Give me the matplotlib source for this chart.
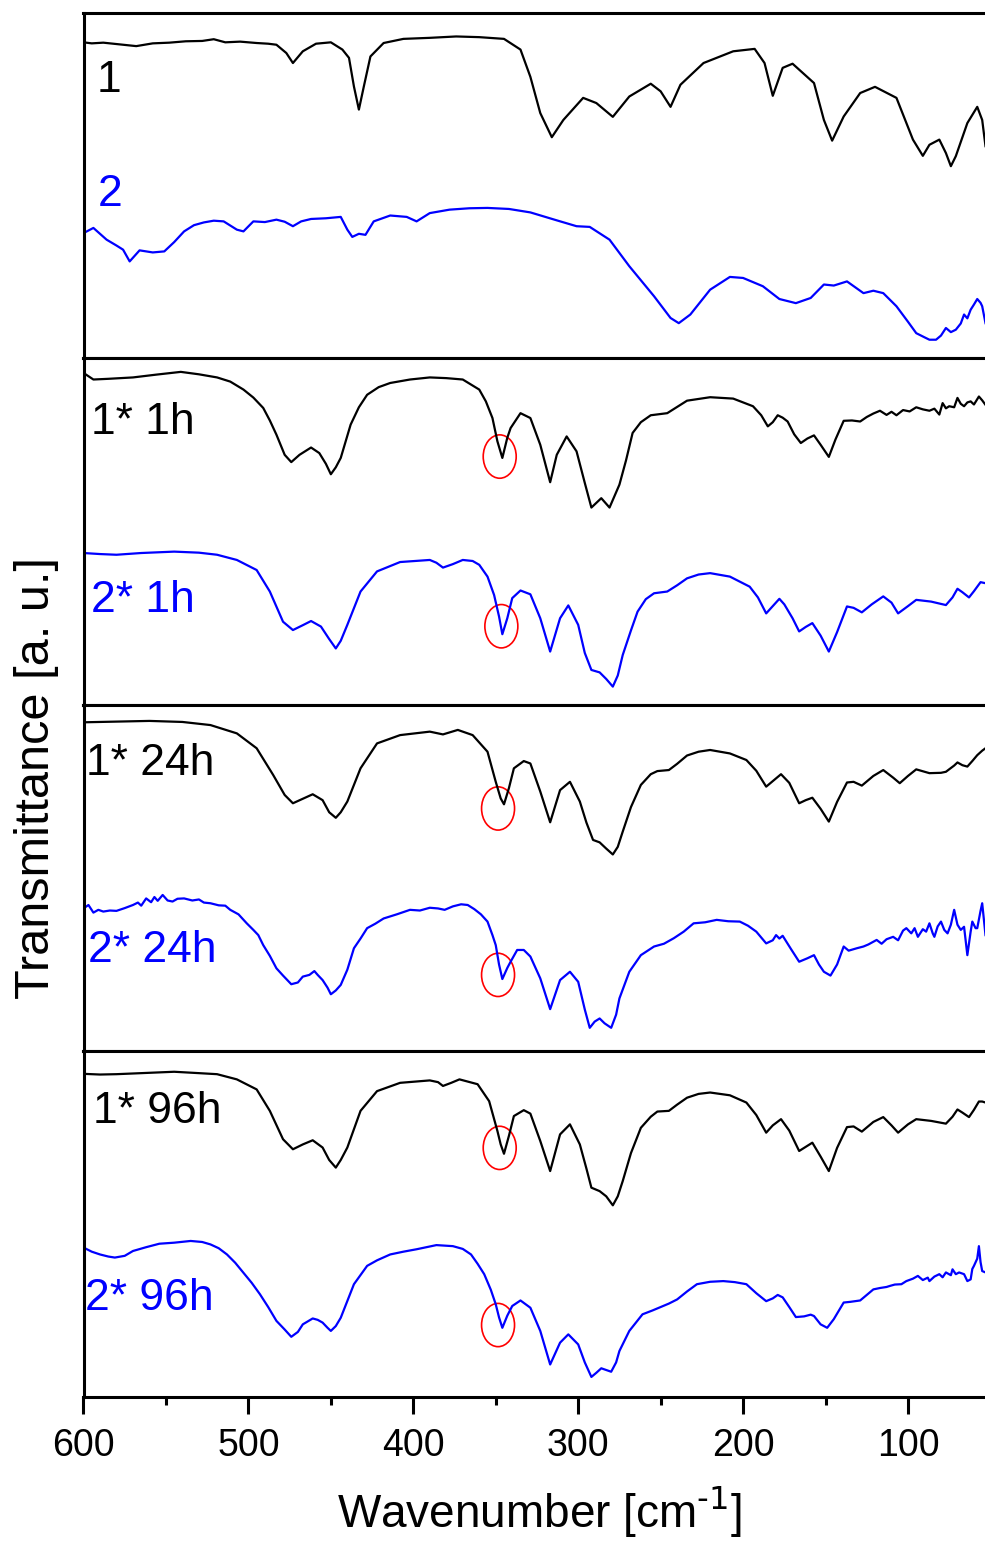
import matplotlib
matplotlib.use("Agg")
import matplotlib.pyplot as plt
from matplotlib.patches import Ellipse
from matplotlib.ticker import MultipleLocator
import numpy as np

plt.rcParams['font.family'] = ['Liberation Sans', 'DejaVu Sans']
plt.rcParams['mathtext.default'] = 'regular'

# Far-IR spectra, columns: wavenumber [cm-1], transmittance [a.u., 0-100 per panel]
spec_1 = np.array([
    [600, 91.5], [595, 91.2], [588, 91.4], [580, 91.0], [568, 90.4], [558, 91.2], [548, 91.4],
    [538, 91.8], [528, 91.9], [521, 92.4], [514, 91.5], [505, 91.7], [495, 91.3], [488, 91.1],
    [483, 90.8], [477, 88.4], [473, 85.5], [467, 88.9], [459, 91.1], [450, 91.5], [443, 89.4],
    [439, 87.0], [436, 78.7], [433, 72.0], [430, 78.7], [426, 87.4], [418, 91.3], [406, 92.5],
    [390, 92.8], [374, 93.2], [360, 93.0], [345, 92.5], [335, 89.4], [329, 81.5], [323, 71.0],
    [316, 64.0], [309, 69.0], [297, 75.4], [289, 73.9], [279, 69.9], [269, 75.8], [256, 79.5],
    [250, 77.3], [244, 72.8], [238, 79.2], [224, 85.5], [206, 88.9], [193, 89.6], [187, 85.5],
    [182, 76.0], [176, 84.1], [170, 85.3], [157, 79.7], [151, 69.0], [146, 63.0], [139, 70.0],
    [129, 76.8], [120, 78.6], [107, 75.4], [97, 63.3], [91, 58.6], [87, 61.8], [81, 63.3],
    [77, 59.4], [74, 55.6], [71, 58.5], [64, 68.1], [58, 72.8], [55, 69.0], [53, 61.4]])

spec_2 = np.array([
    [600, 36.2], [594, 37.7], [586, 34.3], [580, 32.6], [576, 31.4], [572, 28.0], [566, 31.2],
    [558, 30.6], [551, 30.9], [545, 33.6], [539, 36.7], [533, 38.5], [527, 39.3], [521, 39.8],
    [515, 39.6], [507, 37.2], [503, 36.7], [497, 39.6], [490, 39.4], [483, 40.1], [478, 39.5],
    [473, 38.2], [468, 39.6], [462, 40.3], [453, 40.5], [444, 40.9], [440, 37.2], [437, 35.1],
    [433, 36.0], [429, 35.7], [424, 39.6], [414, 41.3], [404, 40.9], [398, 39.6], [390, 42.0],
    [378, 43.0], [366, 43.4], [355, 43.5], [342, 43.2], [329, 42.2], [313, 39.9], [301, 38.2],
    [293, 38.0], [281, 34.3], [269, 26.6], [254, 17.9], [244, 11.6], [239, 10.1], [232, 12.6],
    [220, 19.8], [208, 23.5], [200, 23.2], [188, 20.8], [178, 17.1], [168, 15.9], [159, 17.4],
    [151, 21.3], [145, 21.0], [137, 22.2], [127, 18.8], [121, 19.5], [115, 18.8], [107, 15.0],
    [100, 10.5], [95, 7.2], [90, 6.0], [87, 5.3], [83, 5.3], [80, 6.5], [77, 8.7], [74, 7.5],
    [71, 8.2], [68, 10.0], [66, 12.6], [64, 11.5], [62, 14.0], [60, 15.5], [58, 17.1],
    [56, 16.0], [55, 15.0], [53, 10.1]])

spec_1_1h = np.array([
    [600, 95.7], [594, 93.8], [585, 94.0], [570, 94.4], [556, 95.2], [541, 96.0], [530, 95.3],
    [519, 94.4], [511, 93.2], [503, 90.9], [497, 88.6], [491, 85.6], [487, 82.0], [483, 77.9],
    [478, 72.1], [474, 70.0], [469, 72.1], [462, 74.2], [457, 72.6], [453, 69.5], [450, 66.5],
    [447, 68.5], [444, 71.2], [438, 80.8], [433, 85.8], [428, 89.4], [421, 91.6], [414, 92.8],
    [402, 93.8], [390, 94.4], [380, 94.2], [370, 93.8], [360, 90.9], [356, 87.5], [352, 82.7],
    [349, 76.0], [346, 71.2], [343, 77.0], [341, 79.8], [335, 84.1], [329, 82.7], [323, 75.0],
    [317, 64.2], [313, 72.1], [307, 77.4], [301, 73.1], [296, 64.0], [292, 56.9], [286, 59.6],
    [281, 56.9], [275, 63.5], [271, 70.5], [267, 78.4], [262, 81.5], [256, 83.5], [246, 84.1],
    [234, 87.7], [220, 88.7], [206, 88.3], [194, 86.1], [189, 83.5], [185, 80.3], [182, 81.5],
    [179, 83.5], [176, 82.8], [173, 81.7], [169, 78.0], [165, 75.5], [161, 76.8], [157, 77.7],
    [153, 75.0], [148, 71.5], [144, 76.5], [139, 81.9], [134, 82.0], [129, 81.7], [125, 83.0],
    [121, 84.0], [117, 84.8], [113, 83.6], [110, 84.5], [107, 83.5], [103, 85.0], [99, 84.6],
    [95, 85.8], [91, 85.2], [87, 84.8], [84, 85.4], [81, 83.7], [79, 87.0], [77, 85.5],
    [75, 86.1], [72, 85.8], [70, 88.5], [68, 86.8], [66, 86.1], [64, 87.2], [62, 87.5],
    [60, 86.6], [57, 88.9], [55, 87.8], [53, 86.5]])

spec_2_1h = np.array([
    [600, 43.8], [590, 43.5], [580, 43.3], [565, 43.8], [545, 44.2], [530, 43.9], [519, 43.3],
    [507, 41.8], [495, 38.9], [487, 32.7], [479, 24.0], [473, 21.6], [467, 23.0], [462, 24.2],
    [456, 22.6], [451, 19.0], [447, 16.3], [444, 18.5], [440, 23.1], [432, 32.7], [422, 38.5],
    [408, 41.2], [390, 41.8], [386, 41.0], [382, 39.6], [376, 40.6], [370, 41.8], [364, 41.5],
    [360, 40.4], [355, 37.0], [351, 31.7], [348, 25.5], [346, 20.4], [343, 25.0], [340, 30.8],
    [335, 33.0], [329, 31.9], [323, 25.0], [317, 15.4], [311, 25.0], [306, 28.7], [300, 23.1],
    [296, 15.0], [292, 10.1], [287, 9.4], [283, 7.5], [279, 5.3], [276, 8.5], [273, 14.4],
    [268, 21.5], [264, 26.9], [259, 30.5], [254, 32.2], [246, 32.7], [240, 34.5], [234, 36.5],
    [227, 37.6], [220, 38.0], [208, 37.0], [196, 34.1], [191, 31.0], [186, 26.4], [182, 28.5],
    [178, 30.6], [175, 29.0], [170, 25.0], [166, 21.2], [162, 22.5], [158, 23.6], [153, 20.0],
    [148, 15.4], [143, 21.0], [137, 28.4], [133, 28.0], [128, 26.7], [122, 29.0], [115, 31.3],
    [110, 29.5], [106, 26.4], [100, 28.5], [95, 30.3], [86, 29.8], [77, 28.8], [73, 31.0],
    [70, 33.5], [67, 32.5], [63, 31.0], [60, 32.8], [56, 35.4], [53, 35.1]])

spec_1_24h = np.array([
    [600, 95.0], [580, 95.2], [560, 95.4], [540, 95.1], [523, 94.2], [507, 91.8], [495, 87.5],
    [485, 79.8], [478, 74.0], [473, 71.6], [467, 72.9], [461, 74.2], [455, 72.5], [451, 69.0],
    [447, 67.4], [444, 69.0], [440, 72.1], [432, 81.7], [422, 88.9], [408, 91.3], [390, 92.3],
    [382, 91.5], [373, 92.8], [364, 91.3], [355, 86.5], [350, 77.8], [347, 73.0], [345, 71.3],
    [342, 76.0], [339, 81.7], [333, 83.8], [329, 83.1], [323, 75.0], [317, 66.1], [311, 75.4],
    [305, 77.8], [299, 72.1], [295, 66.0], [291, 61.0], [287, 60.3], [283, 58.5], [279, 56.8],
    [276, 59.0], [273, 63.4], [268, 70.5], [262, 76.9], [256, 80.0], [252, 80.9], [245, 81.2],
    [240, 83.0], [234, 85.4], [227, 86.5], [220, 87.0], [208, 86.0], [198, 84.1], [192, 81.0],
    [186, 76.4], [182, 78.0], [177, 80.0], [172, 77.5], [166, 71.6], [162, 72.5], [158, 73.2],
    [153, 70.0], [148, 66.3], [143, 72.0], [137, 77.6], [133, 77.8], [128, 76.7], [121, 79.5],
    [115, 81.2], [109, 79.0], [105, 77.4], [100, 79.5], [95, 81.4], [87, 80.3], [80, 80.4],
    [77, 80.7], [72, 82.5], [70, 83.4], [67, 82.6], [64, 82.2], [61, 83.8], [58, 85.5],
    [55, 86.8], [53, 87.5]])

spec_2_24h = np.array([
    [600, 41.2], [597, 42.2], [594, 40.0], [591, 40.8], [588, 40.3], [584, 40.6], [580, 40.5],
    [575, 41.3], [570, 42.2], [567, 42.9], [565, 42.0], [562, 44.1], [559, 43.0], [557, 44.5],
    [555, 43.4], [552, 45.1], [549, 43.5], [546, 43.2], [543, 44.0], [539, 44.1], [534, 43.5],
    [530, 43.8], [527, 42.9], [523, 42.7], [518, 42.1], [514, 42.0], [511, 40.8], [506, 39.5],
    [501, 36.9], [497, 35.0], [494, 33.5], [491, 30.6], [487, 27.5], [483, 23.9], [479, 21.8],
    [474, 19.3], [470, 19.8], [467, 21.5], [463, 22.0], [460, 23.1], [458, 22.0], [455, 20.5],
    [452, 18.3], [450, 16.4], [447, 17.5], [444, 19.1], [440, 23.5], [436, 29.7], [432, 32.5],
    [428, 35.5], [423, 36.8], [418, 38.3], [410, 39.5], [402, 40.8], [396, 40.6], [390, 41.4],
    [385, 41.2], [381, 40.8], [376, 41.8], [371, 42.4], [367, 42.2], [363, 41.0], [359, 39.5],
    [355, 37.4], [352, 33.5], [350, 30.6], [348, 25.0], [346, 20.8], [343, 24.0], [341, 25.8],
    [337, 29.2], [333, 29.2], [329, 27.3], [323, 21.0], [317, 12.1], [311, 20.5], [305, 22.9],
    [300, 20.0], [296, 12.0], [293, 6.7], [290, 8.5], [287, 9.4], [284, 8.0], [280, 6.7],
    [277, 10.5], [275, 15.2], [269, 22.9], [262, 27.7], [254, 30.2], [248, 31.0], [242, 32.6],
    [236, 34.5], [230, 36.9], [223, 37.2], [216, 37.9], [209, 37.5], [202, 37.4], [197, 36.2],
    [192, 34.5], [186, 31.1], [182, 32.0], [180, 33.5], [178, 32.5], [176, 33.3], [171, 29.5],
    [166, 25.8], [161, 26.8], [157, 27.7], [154, 25.0], [151, 22.9], [147, 21.8], [143, 25.0],
    [139, 30.2], [136, 29.0], [131, 29.7], [127, 30.2], [124, 30.8], [119, 32.1], [116, 31.0],
    [113, 32.3], [109, 33.0], [106, 32.0], [103, 34.8], [101, 35.5], [98, 34.0], [96, 35.5],
    [94, 33.0], [91, 35.2], [89, 34.5], [87, 36.9], [85, 34.0], [84, 33.0], [82, 36.0],
    [80, 37.4], [78, 35.0], [76, 34.0], [74, 36.5], [72, 40.8], [70, 36.5], [68, 35.0],
    [66, 35.9], [64, 27.7], [62, 34.5], [61, 37.4], [59, 35.5], [58, 35.5], [56, 40.5],
    [55, 42.7], [54, 38.0], [53, 33.5]])

spec_1_96h = np.array([
    [600, 93.4], [590, 93.2], [580, 93.3], [565, 93.6], [545, 94.0], [530, 93.6], [519, 93.3],
    [507, 91.8], [495, 88.9], [487, 82.7], [479, 74.5], [473, 71.6], [467, 73.0], [461, 74.2],
    [455, 72.1], [451, 68.5], [447, 66.3], [444, 68.5], [440, 72.1], [432, 82.7], [422, 88.4],
    [408, 90.8], [390, 91.5], [385, 91.0], [382, 89.9], [377, 90.8], [372, 91.8], [361, 90.4],
    [354, 85.5], [349, 76.9], [347, 73.0], [345, 70.3], [342, 75.5], [339, 81.2], [333, 82.9],
    [329, 81.9], [323, 74.0], [317, 65.3], [311, 75.9], [305, 78.8], [299, 73.0], [295, 66.0],
    [292, 60.5], [287, 59.5], [283, 58.0], [279, 55.4], [276, 58.0], [273, 62.4], [268, 70.5],
    [262, 77.8], [256, 81.0], [252, 82.5], [245, 82.7], [240, 84.5], [234, 86.5], [227, 87.6],
    [220, 88.0], [208, 87.2], [198, 85.1], [192, 81.5], [186, 76.4], [182, 78.5], [177, 80.3],
    [172, 77.0], [166, 71.1], [162, 72.3], [158, 73.5], [153, 69.5], [148, 65.3], [143, 72.0],
    [137, 78.0], [133, 78.2], [128, 76.7], [121, 79.5], [115, 80.9], [110, 78.5], [106, 76.4],
    [100, 78.8], [95, 80.3], [86, 79.8], [77, 79.0], [73, 81.0], [70, 83.1], [67, 82.2],
    [63, 80.9], [60, 83.0], [57, 85.4], [55, 85.4], [53, 85.1]])

spec_2_96h = np.array([
    [600, 43.2], [595, 42.0], [590, 41.2], [585, 40.6], [581, 40.3], [575, 40.8], [570, 42.2],
    [562, 43.3], [554, 44.3], [545, 44.6], [535, 45.1], [528, 44.8], [523, 44.1], [518, 43.0],
    [513, 41.2], [508, 38.8], [503, 35.9], [498, 33.0], [493, 29.7], [488, 26.0], [483, 22.0],
    [478, 19.5], [474, 17.4], [470, 18.8], [467, 21.0], [461, 22.7], [458, 22.3], [455, 21.5],
    [452, 20.0], [450, 19.1], [447, 20.5], [444, 22.9], [436, 32.6], [428, 37.9], [422, 39.5],
    [414, 41.2], [406, 42.0], [398, 42.7], [390, 43.5], [386, 43.9], [376, 43.6], [370, 42.8],
    [365, 41.2], [361, 38.5], [357, 35.5], [353, 31.0], [350, 26.8], [348, 23.0], [346, 20.0],
    [343, 23.5], [340, 26.3], [335, 27.9], [329, 25.8], [323, 19.1], [317, 9.4], [311, 15.7],
    [306, 18.1], [300, 15.2], [296, 10.0], [292, 5.8], [289, 7.0], [286, 8.3], [283, 7.8],
    [280, 7.3], [277, 10.0], [275, 13.3], [269, 19.1], [261, 23.9], [255, 25.0], [250, 26.0],
    [245, 27.0], [240, 28.2], [234, 30.5], [228, 32.6], [220, 33.3], [212, 33.5], [205, 33.2],
    [198, 32.6], [192, 30.0], [186, 27.7], [182, 28.5], [179, 29.5], [176, 28.8], [172, 26.0],
    [168, 23.1], [163, 23.3], [159, 23.8], [157, 23.4], [153, 21.0], [149, 20.0], [145, 22.5],
    [139, 27.3], [135, 27.5], [129, 27.9], [125, 29.5], [121, 31.1], [117, 31.5], [113, 31.8],
    [111, 32.1], [108, 32.5], [104, 32.6], [101, 33.5], [97, 34.2], [94, 35.0], [91, 33.8],
    [88, 34.5], [87, 33.5], [84, 34.8], [81, 35.5], [79, 34.6], [77, 36.0], [74, 35.2],
    [73, 36.9], [71, 35.5], [69, 36.0], [66, 35.5], [64, 33.5], [62, 34.0], [61, 37.0],
    [60, 37.9], [58, 40.0], [57, 43.6], [56, 39.0], [55, 36.4], [53, 36.0]])

panels = [
    [(spec_1, 'black', '1'), (spec_2, 'blue', '2')],
    [(spec_1_1h, 'black', '1* 1h'), (spec_2_1h, 'blue', '2* 1h')],
    [(spec_1_24h, 'black', '1* 24h'), (spec_2_24h, 'blue', '2* 24h')],
    [(spec_1_96h, 'black', '1* 96h'), (spec_2_96h, 'blue', '2* 96h')],
]

# red marks around the ~347 cm-1 band (centre wavenumber, centre value) for panels 2-4
marks = [
    [],
    [(347.6, 71.6), (346.6, 22.7)],
    [(348.6, 70.1), (348.6, 22.0)],
    [(347.6, 72.0), (348.6, 20.8)],
]

# label anchors in pixels (left, baseline)
label_px = [
    [(97, 92), (98, 206)],
    [(91, 434), (91, 612)],
    [(86, 775), (88, 962)],
    [(93, 1123), (85, 1310)],
]

W, H = 985, 1546
fig = plt.figure(figsize=(W / 100, H / 100), dpi=100)

edges = [13, 358, 705, 1051, 1397]
left = 83.5 / W
axes = []
for i in range(4):
    top, bot = edges[i], edges[i + 1]
    ax = fig.add_axes([left, 1 - bot / H, 1 - left, (bot - top) / H])
    for spec, color, name in panels[i]:
        ax.plot(spec[:, 0], spec[:, 1], color=color, lw=1.6, solid_joinstyle='round')
    for (cx, cy) in marks[i]:
        ax.add_patch(Ellipse((cx, cy), 20, 12.5, fill=False, ec='red', lw=1.2))
    for (spec, color, name), (px, py) in zip(panels[i], label_px[i]):
        fig.text(px / W, 1 - py / H, name, color=color, fontsize=32, va='baseline', ha='left')
    ax.set_xlim(600, 53.3)
    ax.set_ylim(0, 100)
    ax.spines['right'].set_visible(False)
    for s in ['left', 'top', 'bottom']:
        ax.spines[s].set_linewidth(2.2)
    ax.tick_params(left=False, labelleft=False, bottom=False, labelbottom=False)
    axes.append(ax)

ax = axes[-1]
ax.xaxis.set_major_locator(MultipleLocator(100))
ax.xaxis.set_minor_locator(MultipleLocator(50))
ax.tick_params(axis='x', which='both', bottom=True, labelbottom=True, direction='out')
ax.tick_params(axis='x', which='major', length=12, width=2.2, labelsize=27, pad=10)
ax.tick_params(axis='x', which='minor', length=6, width=2.2)

fig.text(539 / W, 1 - 1528 / H, r'Wavenumber [cm$^{\text{-1}}$]', fontsize=33,
         ha='center', va='baseline')
fig.text(37 / W, 1 - 778 / H, 'Transmittance [a. u.]', fontsize=35, rotation=90,
         ha='center', va='center')

fig.savefig('out.png', dpi=100)
